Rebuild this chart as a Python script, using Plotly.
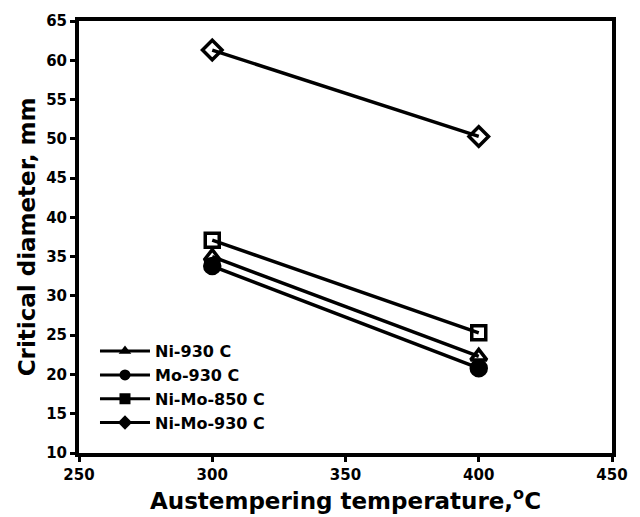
import plotly.graph_objects as go

temps = [300, 400]
series_names = ["Ni-930 C", "Mo-930 C", "Ni-Mo-850 C", "Ni-Mo-930 C"]
ni_930 = [35.0, 22.3]
mo_930 = [33.8, 20.8]
nimo_850 = [37.1, 25.3]
nimo_930 = [61.3, 50.3]
x_ticks = [250, 300, 350, 400, 450]
y_ticks = [10, 15, 20, 25, 30, 35, 40, 45, 50, 55, 60, 65]

values = [ni_930, mo_930, nimo_850, nimo_930]
symbols_plot = ["triangle-up-open", "circle", "square-open", "diamond-open"]
symbols_leg = ["triangle-up", "circle", "square", "diamond"]
sizes = [14, 15, 14, 15]

fig = go.Figure()
for name, vals, sp, sz in zip(series_names, values, symbols_plot, sizes):
    fig.add_trace(go.Scatter(
        x=temps, y=vals, mode="lines+markers", showlegend=False,
        line=dict(color="black", width=3.5),
        marker=dict(symbol=sp, size=sz, color="black",
                    line=dict(color="black", width=3.5)),
    ))
for name, sl in zip(series_names, symbols_leg):
    fig.add_trace(go.Scatter(
        x=[None], y=[None], mode="lines+markers", name="<b>" + name + "</b>",
        line=dict(color="black", width=3),
        marker=dict(symbol=sl, size=11, color="black"),
    ))

font_fam = "DejaVu Sans"
fig.update_layout(
    width=640, height=517,
    margin=dict(l=79, r=19, t=20, b=60),
    paper_bgcolor="white", plot_bgcolor="white",
    font=dict(family=font_fam, color="black"),
    legend=dict(x=0.03, y=0.275, xanchor="left", yanchor="top",
                font=dict(size=16, family=font_fam),
                bgcolor="rgba(0,0,0,0)", itemwidth=50, tracegroupgap=0),
    xaxis=dict(range=[250, 450], tickvals=x_ticks,
               ticktext=["<b>%d</b>" % v for v in x_ticks],
               showgrid=False, zeroline=False,
               showline=True, linewidth=4, linecolor="black", mirror=True,
               ticks="outside", ticklen=5, tickwidth=3, tickcolor="black",
               tickfont=dict(size=15),
               title=dict(text="<b>Austempering temperature,<sup>o</sup>C</b>",
                          font=dict(size=23), standoff=5)),
    yaxis=dict(range=[10, 65], tickvals=y_ticks,
               ticktext=["<b>%d</b>" % v for v in y_ticks],
               showgrid=False, zeroline=False,
               showline=True, linewidth=4, linecolor="black", mirror=True,
               ticks="outside", ticklen=5, tickwidth=3, tickcolor="black",
               tickfont=dict(size=15),
               title=dict(text="<b>Critical diameter, mm</b>",
                          font=dict(size=23), standoff=5)),
)
fig.write_html("out.html")
